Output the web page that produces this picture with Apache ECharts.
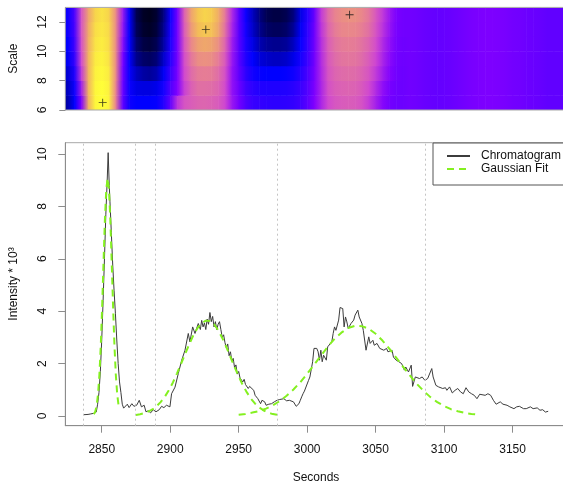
<!DOCTYPE html>
<html><head><meta charset="utf-8">
<script src="https://cdn.jsdelivr.net/npm/echarts@6/dist/echarts.min.js"></script>
<style>html,body{margin:0;padding:0;background:#fff}#c{width:563px;height:484px}</style>
</head><body><div id="c"></div>
<script>
// ---------- DATA ----------
const secondsTicks = [2850, 2900, 2950, 3000, 3050, 3100, 3150];
const intensityTicks = [0, 2, 4, 6, 8, 10];
const scaleTicks = [6, 8, 10, 12];
const boundarySeconds = [2836.5, 2874.3, 2889.4, 2978, 3086.2];

// heatmap column centres (seconds)
const heatSeconds = [2820,2825,2830,2835,2840,2845,2850,2855,2860,2865,2870,2875,2880,2885,2890,2895,2900,2905,2910,2915,2920,2925,2930,2935,2940,2945,2950,2955,2960,2965,2970,2975,2980,2985,2990,2995,3000,3005,3010,3015,3020,3025,3030,3035,3040,3045,3050,3055,3060,3065,3070,3075,3080,3085,3090,3095,3100,3105,3110,3115,3120,3125,3130,3135,3140,3145,3150,3155,3160,3165,3170,3175,3180,3185,3190,3195];
// wavelet coefficient (relative) per scale row, -1 = darkest, 1 = brightest
const scale12 = [-0.45,-0.45,-0.2,0.3,0.65,0.85,0.9,0.85,0.55,0.1,-0.5,-0.85,-0.95,-0.97,-0.92,-0.75,-0.45,-0.05,0.35,0.65,0.8,0.85,0.82,0.7,0.45,0.15,-0.15,-0.45,-0.62,-0.75,-0.85,-0.88,-0.88,-0.85,-0.75,-0.55,-0.35,-0.1,0.2,0.4,0.5,0.55,0.57,0.56,0.52,0.45,0.32,0.2,0.08,-0.02,-0.06,-0.06,-0.07,-0.09,-0.1,-0.11,-0.1,-0.09,-0.07,-0.05,-0.03,-0.02,-0.01,-0.01,-0.02,-0.03,-0.05,-0.06,-0.08,-0.09,-0.1,-0.12,-0.12,-0.12,-0.12,-0.12];
const scale11 = [-0.45,-0.45,-0.22,0.3,0.68,0.88,0.92,0.87,0.55,0.08,-0.5,-0.83,-0.93,-0.95,-0.9,-0.72,-0.42,-0.05,0.33,0.6,0.76,0.8,0.78,0.66,0.42,0.13,-0.15,-0.42,-0.6,-0.72,-0.8,-0.83,-0.83,-0.8,-0.7,-0.52,-0.32,-0.08,0.18,0.37,0.47,0.52,0.53,0.52,0.48,0.42,0.3,0.18,0.07,-0.03,-0.06,-0.06,-0.07,-0.09,-0.1,-0.11,-0.1,-0.09,-0.07,-0.05,-0.03,-0.02,-0.01,-0.01,-0.02,-0.03,-0.05,-0.06,-0.08,-0.09,-0.1,-0.12,-0.12,-0.12,-0.12,-0.12];
const scale10 = [-0.5,-0.5,-0.25,0.28,0.7,0.9,0.94,0.88,0.55,0.05,-0.5,-0.78,-0.88,-0.9,-0.85,-0.68,-0.4,-0.05,0.3,0.52,0.64,0.67,0.65,0.56,0.37,0.1,-0.15,-0.4,-0.55,-0.65,-0.7,-0.72,-0.72,-0.7,-0.62,-0.48,-0.3,-0.07,0.16,0.34,0.43,0.47,0.48,0.47,0.43,0.37,0.27,0.15,0.05,-0.04,-0.07,-0.06,-0.07,-0.09,-0.1,-0.11,-0.1,-0.09,-0.07,-0.05,-0.03,-0.02,-0.01,-0.01,-0.02,-0.03,-0.05,-0.06,-0.08,-0.09,-0.1,-0.12,-0.12,-0.12,-0.12,-0.12];
const scale9 = [-0.55,-0.52,-0.3,0.25,0.72,0.93,0.96,0.9,0.55,0.0,-0.5,-0.72,-0.8,-0.82,-0.77,-0.6,-0.35,-0.05,0.27,0.45,0.55,0.57,0.55,0.47,0.32,0.08,-0.15,-0.37,-0.5,-0.57,-0.6,-0.62,-0.62,-0.6,-0.54,-0.42,-0.27,-0.06,0.15,0.32,0.4,0.44,0.45,0.44,0.4,0.33,0.24,0.13,0.03,-0.05,-0.07,-0.06,-0.07,-0.09,-0.1,-0.11,-0.1,-0.09,-0.07,-0.05,-0.03,-0.02,-0.01,-0.01,-0.02,-0.03,-0.05,-0.06,-0.08,-0.09,-0.1,-0.12,-0.12,-0.12,-0.12,-0.12];
const scale8 = [-0.62,-0.58,-0.38,0.2,0.72,0.95,0.98,0.93,0.55,-0.03,-0.48,-0.62,-0.68,-0.7,-0.66,-0.52,-0.28,-0.03,0.25,0.4,0.47,0.48,0.47,0.41,0.28,0.06,-0.12,-0.32,-0.43,-0.48,-0.5,-0.5,-0.5,-0.48,-0.44,-0.35,-0.22,-0.04,0.14,0.3,0.37,0.4,0.41,0.4,0.36,0.3,0.2,0.1,0.01,-0.06,-0.08,-0.06,-0.07,-0.09,-0.1,-0.11,-0.1,-0.09,-0.07,-0.05,-0.03,-0.02,-0.01,-0.01,-0.02,-0.03,-0.05,-0.06,-0.08,-0.09,-0.1,-0.12,-0.12,-0.12,-0.12,-0.12];
const scale7 = [-0.68,-0.62,-0.45,0.1,0.72,0.97,1.0,0.95,0.52,-0.06,-0.46,-0.55,-0.56,-0.56,-0.54,-0.42,-0.2,0.0,0.22,0.35,0.42,0.42,0.41,0.37,0.26,0.06,-0.08,-0.25,-0.33,-0.37,-0.38,-0.38,-0.38,-0.37,-0.34,-0.28,-0.18,-0.02,0.13,0.28,0.34,0.36,0.37,0.36,0.32,0.25,0.15,0.05,-0.03,-0.07,-0.08,-0.06,-0.07,-0.09,-0.1,-0.11,-0.1,-0.09,-0.07,-0.05,-0.03,-0.02,-0.01,-0.01,-0.02,-0.03,-0.05,-0.06,-0.08,-0.09,-0.1,-0.12,-0.12,-0.12,-0.12,-0.12];
const scale6 = [-0.72,-0.66,-0.5,0.0,0.7,0.97,1.0,0.96,0.5,-0.1,-0.45,-0.5,-0.5,-0.5,-0.48,-0.36,-0.12,0.18,0.3,0.34,0.37,0.38,0.36,0.33,0.24,0.08,-0.05,-0.2,-0.28,-0.3,-0.32,-0.33,-0.33,-0.32,-0.3,-0.25,-0.15,0.0,0.13,0.25,0.31,0.33,0.34,0.33,0.29,0.21,0.11,0.02,-0.05,-0.08,-0.08,-0.06,-0.07,-0.09,-0.1,-0.11,-0.1,-0.09,-0.07,-0.05,-0.03,-0.02,-0.01,-0.01,-0.02,-0.03,-0.05,-0.06,-0.08,-0.09,-0.1,-0.12,-0.12,-0.12,-0.12,-0.12];
// detected maxima [seconds, scale]
const ridgeMaxima = [[2850.7, 6.5], [2926, 11.5], [3031, 12.5]];

const chromatogram = [[2837,0.05],[2838,0.03],[2840,0.06],[2842,0.08],[2844,0.1],[2845,0.12],[2846,0.15],[2847,0.45],[2848,0.9],[2849,1.7],[2850,2.9],[2851,4.4],[2852,6.0],[2853,7.7],[2854,9.0],[2854.7,10.05],[2855.5,8.8],[2856,8.2],[2857,7.0],[2858,5.8],[2859,4.8],[2860,3.9],[2861,2.9],[2862,2.0],[2863,1.3],[2864,0.9],[2865,0.45],[2866,0.3],[2867,0.28],[2868.7,0.45],[2870,0.32],[2872,0.47],[2873.5,0.37],[2875.5,0.41],[2877.4,0.6],[2879,0.35],[2881,0.41],[2882.3,0.16],[2884,0.2],[2885.7,0.12],[2887.6,0.24],[2889.6,0.16],[2892,0.24],[2893.7,0.37],[2895.4,0.32],[2897.3,0.41],[2899.8,0.35],[2901,0.85],[2903.5,1.1],[2905.9,1.62],[2908.4,2.13],[2910.8,2.51],[2913.2,3.15],[2914.4,2.83],[2916.4,3.4],[2918.1,3.15],[2920.5,3.53],[2922,3.3],[2923,3.65],[2924,3.4],[2925,3.55],[2926,3.3],[2927,3.7],[2928,3.5],[2929,3.95],[2930,3.6],[2931,3.8],[2932,3.4],[2933,3.6],[2934,3.3],[2935,3.5],[2936,3.6],[2937,3.3],[2938,3.0],[2939,3.1],[2940,2.8],[2941,2.6],[2942,2.75],[2943,2.3],[2944,2.45],[2945,2.1],[2946,2.2],[2947,1.85],[2948,1.95],[2949,1.6],[2950,1.7],[2951,1.45],[2952,1.5],[2953,1.3],[2954,1.4],[2955,1.2],[2956,1.25],[2957,1.05],[2958,1.13],[2961,0.98],[2962,0.79],[2963,0.73],[2964,0.66],[2966,0.47],[2967,0.6],[2968,0.66],[2969,0.54],[2970,0.41],[2972,0.45],[2973,0.41],[2974,0.47],[2976,0.54],[2978,0.6],[2980,0.63],[2983,0.66],[2985,0.58],[2987,0.6],[2990,0.54],[2992,0.37],[2994,0.47],[2995,0.6],[2996,0.73],[2997,0.85],[2998,0.95],[3001,1.36],[3002,1.49],[3004,2.07],[3005,2.58],[3007,2.58],[3008,2.45],[3009,2.13],[3010,2.51],[3011,2.07],[3012,2.32],[3014,2.13],[3015,2.64],[3018,2.83],[3019,3.15],[3020,3.4],[3021,3.27],[3023,3.66],[3024,4.14],[3026,4.1],[3027,3.4],[3028,3.78],[3029,3.59],[3030,3.34],[3032,3.53],[3034,3.66],[3035,3.85],[3037,4.04],[3038,3.78],[3040,3.53],[3041,3.27],[3043,2.51],[3045,3.02],[3046,2.77],[3048,2.89],[3049,2.7],[3051,2.77],[3053,2.58],[3054,2.64],[3056,2.51],[3058,2.58],[3059,2.45],[3062,2.51],[3063,2.25],[3065,2.13],[3067,2.07],[3069,2.0],[3071,1.75],[3072,1.87],[3074,1.68],[3076,1.94],[3077,1.13],[3079,1.49],[3080,1.56],[3082,1.43],[3084,1.49],[3086,1.36],[3088,1.43],[3091,1.81],[3092,1.49],[3094,1.17],[3096,1.11],[3097,1.13],[3099,1.05],[3101,1.08],[3102,0.98],[3104,1.11],[3106,0.88],[3108,0.98],[3110,1.05],[3112,0.92],[3114,0.85],[3116,1.08],[3118,0.92],[3120,0.85],[3122,0.79],[3124,0.66],[3126,0.83],[3127,0.79],[3130,0.79],[3132,0.85],[3134,0.79],[3136,0.6],[3138,0.45],[3141,0.54],[3143,0.45],[3146,0.41],[3148,0.35],[3151,0.28],[3153,0.35],[3155,0.37],[3158,0.28],[3160,0.28],[3163,0.35],[3165,0.28],[3168,0.31],[3170,0.22],[3172,0.24],[3174,0.15],[3176,0.18]];

const gaussFit1 = [[2844.3,0.07],[2845.3,0.17],[2846.3,0.4],[2847.3,0.83],[2848.3,1.57],[2849.3,2.68],[2850.3,4.16],[2851.3,5.85],[2852.3,7.46],[2853.3,8.64],[2854.3,9.07],[2855.3,8.64],[2856.3,7.46],[2857.3,5.85],[2858.3,4.16],[2859.3,2.68],[2860.3,1.57],[2861.3,0.83],[2862.3,0.4]];
const gaussFit2 = [[2875,0.04],[2878,0.07],[2881,0.11],[2884,0.17],[2887,0.25],[2890,0.37],[2893,0.53],[2896,0.73],[2899,0.98],[2902,1.28],[2905,1.63],[2908,2.0],[2911,2.38],[2914,2.75],[2917,3.09],[2920,3.36],[2923,3.55],[2926,3.64],[2929,3.63],[2932,3.5],[2935,3.28],[2938,2.98],[2941,2.63],[2944,2.25],[2947,1.87],[2950,1.51],[2953,1.18],[2956,0.9],[2959,0.66],[2962,0.47],[2965,0.33],[2968,0.22],[2971,0.14],[2974,0.09],[2977,0.06],[2978,0.05]];
const gaussFit3 = [[2950,0.05],[2955,0.08],[2960,0.13],[2965,0.19],[2970,0.28],[2975,0.41],[2980,0.57],[2985,0.77],[2990,1.01],[2995,1.29],[3000,1.61],[3005,1.95],[3010,2.3],[3015,2.64],[3020,2.94],[3025,3.18],[3030,3.36],[3035,3.44],[3040,3.43],[3045,3.33],[3050,3.14],[3055,2.88],[3060,2.57],[3065,2.23],[3070,1.88],[3075,1.55],[3080,1.23],[3085,0.96],[3090,0.72],[3095,0.53],[3100,0.38],[3105,0.26],[3110,0.18],[3115,0.12],[3120,0.08],[3125,0.05]];

// ---------- BUILD ----------
const FONT = "'Liberation Sans', Arial, Helvetica, sans-serif";
const xMin = 2823.4, xMax = 3189.6;
const heatColors = ['#00000f','#000080','#0000ff','#4000ff','#8000ff','#d048d0','#e88290','#f2b85a','#ffff38'];
function heatColor(v) {
  const t = Math.max(0, Math.min(1, (v + 1) / 2));
  return echarts.color.lerp(t, heatColors);
}
const heatRows = [[6, scale6], [7, scale7], [8, scale8], [9, scale9], [10, scale10], [11, scale11], [12, scale12]];
const heatData = [];
heatRows.forEach(([lo, vals]) => {
  for (let i = 0; i < heatSeconds.length - 1; i++) {
    heatData.push([heatSeconds[i], heatSeconds[i + 1], lo, lo + 1, vals[i], vals[i + 1]]);
  }
});

const chart = echarts.init(document.getElementById('c'), null, { renderer: 'canvas' });
const axisGray = '#8c8c8c';
const greenFit = '#84f020';
const option = {
  animation: false,
  backgroundColor: '#fff',
  textStyle: { fontFamily: FONT },
  grid: [
    { left: 65.3, top: 7.4, width: 501.5, height: 102.6, show: true, borderColor: '#a8a8a8', borderWidth: 1, backgroundColor: 'transparent', z: 5, outerBoundsMode: 'none', containLabel: false },
    { left: 65.3, top: 142.7, width: 501.5, height: 283, show: true, borderColor: '#a8a8a8', borderWidth: 1, backgroundColor: 'transparent', outerBoundsMode: 'none', containLabel: false }
  ],
  xAxis: [
    { type: 'value', gridIndex: 0, min: xMin, max: xMax, axisLine: { show: false }, axisTick: { show: false }, axisLabel: { show: false }, splitLine: { show: false } },
    { type: 'value', gridIndex: 1, min: xMin, max: xMax,
      axisLine: { show: true, onZero: false, lineStyle: { color: axisGray } },
      axisTick: { show: true, length: 7, customValues: secondsTicks, lineStyle: { color: axisGray } },
      axisLabel: { show: true, customValues: secondsTicks, margin: 18, fontSize: 12, color: '#111', fontFamily: FONT, formatter: v => String(v) },
      splitLine: { show: false } }
  ],
  yAxis: [
    { type: 'value', gridIndex: 0, min: 6, max: 13,
      axisLine: { show: true, lineStyle: { color: axisGray } },
      axisTick: { show: true, length: 6, customValues: scaleTicks, lineStyle: { color: axisGray } },
      axisLabel: { show: true, customValues: scaleTicks, rotate: 90, margin: 17, fontSize: 12, color: '#111', fontFamily: FONT, formatter: v => String(v) },
      splitLine: { show: false } },
    { type: 'value', gridIndex: 1, min: -0.37, max: 10.43,
      axisLine: { show: true, onZero: false, lineStyle: { color: axisGray } },
      axisTick: { show: true, length: 7, customValues: intensityTicks, lineStyle: { color: axisGray } },
      axisLabel: { show: true, customValues: intensityTicks, rotate: 90, margin: 17, fontSize: 12, color: '#111', fontFamily: FONT, formatter: v => String(v) },
      splitLine: { show: false } }
  ],
  legend: {
    data: ['Chromatogram', 'Gaussian Fit'],
    orient: 'vertical', left: 433, top: 143,
    itemWidth: 23, itemHeight: 14, itemGap: 1,
    padding: [7, 30, 10, 13],
    borderColor: '#555', borderWidth: 1, backgroundColor: '#fff',
    itemStyle: { opacity: 0 },
    textStyle: { fontSize: 12, color: '#111', fontFamily: FONT, padding: [0, 0, 0, 6] },
    selectedMode: false
  },
  graphic: [
    { type: 'text', x: 14, y: 58.7, rotation: Math.PI / 2, style: { text: 'Scale', fontSize: 12, fontFamily: FONT, fill: '#111', align: 'center', verticalAlign: 'middle' } },
    { type: 'text', x: 14, y: 284, rotation: Math.PI / 2, style: { text: 'Intensity * 10³', fontSize: 12, fontFamily: FONT, fill: '#111', align: 'center', verticalAlign: 'middle' } },
    { type: 'text', x: 316, y: 478, style: { text: 'Seconds', fontSize: 12, fontFamily: FONT, fill: '#111', align: 'center', verticalAlign: 'middle' } }
  ],
  series: [
    { type: 'custom', name: 'heat', xAxisIndex: 0, yAxisIndex: 0, clip: true, z: 1, silent: true,
      encode: { x: [0, 1], y: [2, 3] },
      data: heatData,
      renderItem: function (params, api) {
        const p0 = api.coord([api.value(0), api.value(3)]);
        const p1 = api.coord([api.value(1), api.value(2)]);
        return {
          type: 'rect',
          shape: { x: p0[0], y: p0[1], width: p1[0] - p0[0] + 0.6, height: p1[1] - p0[1] + 0.3 },
          style: { fill: new echarts.graphic.LinearGradient(0, 0, 1, 0, [
            { offset: 0, color: heatColor(api.value(4)) },
            { offset: 1, color: heatColor(api.value(5)) }
          ]) }
        };
      } },
    { type: 'scatter', name: 'maxima', xAxisIndex: 0, yAxisIndex: 0, z: 6, silent: true,
      symbol: 'path://M4.45,0H5.55V10H4.45Z M0,4.45H10V5.55H0Z', symbolSize: 8,
      itemStyle: { color: '#111' }, data: ridgeMaxima },
    { type: 'line', name: 'Chromatogram', xAxisIndex: 1, yAxisIndex: 1, data: chromatogram,
      showSymbol: false, symbol: 'none', lineStyle: { color: '#3c3c3c', width: 1 }, itemStyle: { color: '#3c3c3c' }, z: 3,
      markLine: { silent: true, symbol: ['none', 'none'], label: { show: false },
        lineStyle: { type: [2, 3], color: '#c4c4c4', width: 1 },
        data: boundarySeconds.map(s => ({ xAxis: s })) } },
    { type: 'line', name: 'Gaussian Fit', xAxisIndex: 1, yAxisIndex: 1, data: gaussFit1,
      showSymbol: false, symbol: 'none', lineStyle: { color: greenFit, width: 2, type: [7, 5] }, itemStyle: { color: greenFit }, z: 4 },
    { type: 'line', name: 'Gaussian Fit', xAxisIndex: 1, yAxisIndex: 1, data: gaussFit2,
      showSymbol: false, symbol: 'none', lineStyle: { color: greenFit, width: 2, type: [7, 5] }, itemStyle: { color: greenFit }, z: 4 },
    { type: 'line', name: 'Gaussian Fit', xAxisIndex: 1, yAxisIndex: 1, data: gaussFit3,
      showSymbol: false, symbol: 'none', lineStyle: { color: greenFit, width: 2, type: [7, 5] }, itemStyle: { color: greenFit }, z: 4 }
  ]
};
chart.setOption(option);
</script></body></html>
